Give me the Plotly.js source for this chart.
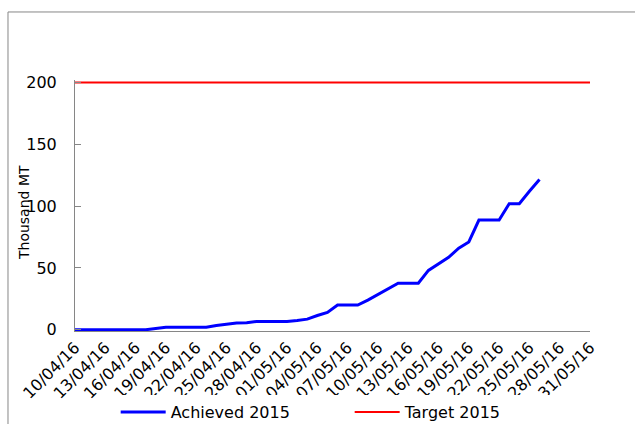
<!DOCTYPE html>
<html>
<head>
<meta charset="utf-8">
<script src="https://cdn.plot.ly/plotly-3.0.1.min.js"></script>
<style>html,body{margin:0;padding:0;background:#fff;}#chart{width:635px;height:424px;}</style>
</head>
<body>
<div id="chart"></div>
<script>
// Data
const achievedDates = [
  '2016-04-10','2016-04-11','2016-04-12','2016-04-13','2016-04-14','2016-04-15','2016-04-16',
  '2016-04-17','2016-04-18','2016-04-19','2016-04-20','2016-04-21','2016-04-22','2016-04-23',
  '2016-04-24','2016-04-25','2016-04-26','2016-04-27','2016-04-28','2016-04-29','2016-04-30',
  '2016-05-01','2016-05-02','2016-05-03','2016-05-04','2016-05-05','2016-05-06','2016-05-07',
  '2016-05-08','2016-05-09','2016-05-10','2016-05-11','2016-05-12','2016-05-13','2016-05-14',
  '2016-05-15','2016-05-16','2016-05-17','2016-05-18','2016-05-19','2016-05-20','2016-05-21',
  '2016-05-22','2016-05-23','2016-05-24','2016-05-25','2016-05-26'
];
const achievedValues = [
  0,0,0,0,0,0,0,
  0,1,2,2,2,2,2,
  3.5,4.5,5.5,5.7,6.7,6.7,6.7,
  6.7,7.5,8.6,11.5,14,20,20,
  20,24,28.5,33,37.6,37.6,37.6,
  48,53.5,58.6,66,71,88.7,88.7,
  88.7,102,102,112,121.5
];
const targetDates = ['2016-04-10','2016-05-31'];
const targetValues = [200,200];
const yTickValues = [0,50,100,150,200];
const seriesNames = ['Achieved 2015','Target 2015'];
const yAxisTitle = 'Thousand MT';

const FONT = 'DejaVu Sans, Arial, sans-serif';
const traces = [
  {x: achievedDates, y: achievedValues, type: 'scatter', mode: 'lines', name: seriesNames[0],
   line: {color: '#0000FF', width: 3}},
  {x: targetDates, y: targetValues, type: 'scatter', mode: 'lines', name: seriesNames[1],
   line: {color: '#FF0000', width: 2}}
];
const layout = {
  width: 635, height: 424,
  margin: {l: 75, r: 45, t: 80, b: 93, autoexpand: false},
  paper_bgcolor: '#fff', plot_bgcolor: '#fff',
  font: {family: FONT, size: 16, color: '#000'},
  showlegend: true,
  legend: {orientation: 'h', x: 0.079, xanchor: 'left', y: -0.255, yanchor: 'top',
           font: {family: FONT, size: 16, color: '#000'}, entrywidth: 174, entrywidthmode: 'pixels',
           itemwidth: 45},
  xaxis: {type: 'date', range: ['2016-04-10','2016-05-31'], tick0: '2016-04-10', dtick: 3*86400000,
          tickformat: '%d/%m/%y', tickangle: -45, showgrid: false, zeroline: false, automargin: false,
          showline: true, linecolor: '#868686', linewidth: 1, ticks: '',
          tickfont: {family: FONT, size: 16, color: '#000'}},
  yaxis: {range: [-1, 202], tickvals: yTickValues, ticktext: yTickValues.map(String), automargin: false,
          showgrid: false, zeroline: false, showline: true, linecolor: '#868686', linewidth: 1,
          ticks: 'inside', ticklen: 6, tickcolor: '#868686', ticklabelstandoff: 14,
          tickfont: {family: FONT, size: 16, color: '#000'}},
  annotations: [{text: yAxisTitle, xref: 'paper', yref: 'paper', x: -0.099, y: 0.47,
                 xanchor: 'center', yanchor: 'middle', textangle: -90, showarrow: false,
                 font: {family: FONT, size: 14, color: '#000'}}],
  shapes: [{type: 'rect', xref: 'paper', yref: 'paper', x0: -0.1301, x1: 2, y0: -2, y1: 1.271,
            line: {color: '#868686', width: 1}, fillcolor: 'rgba(0,0,0,0)', layer: 'below'}]
};
Plotly.newPlot('chart', traces, layout, {displayModeBar: false, staticPlot: true});
</script>
</body>
</html>
